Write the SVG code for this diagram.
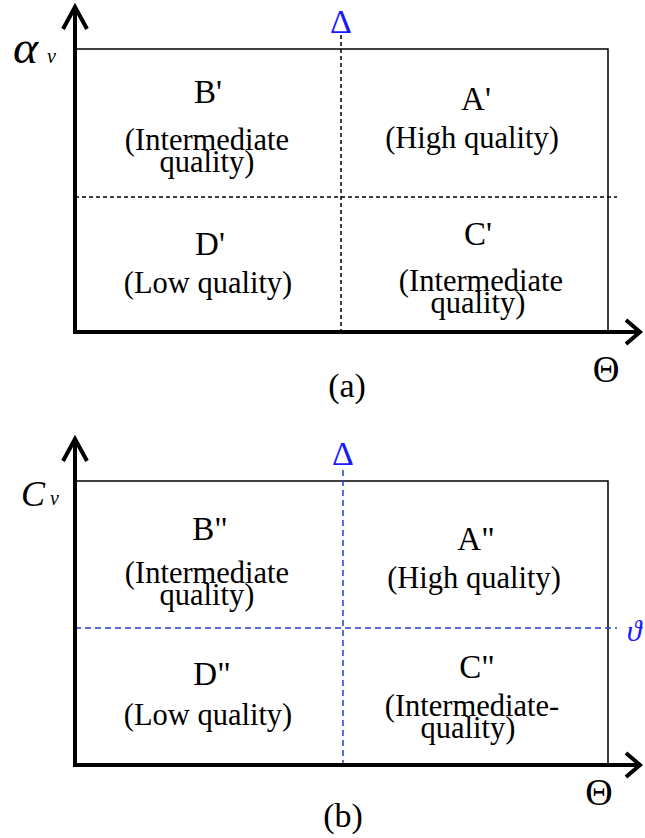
<svg xmlns="http://www.w3.org/2000/svg" width="645" height="838" viewBox="0 0 645 838" font-family="'Liberation Serif', 'Times New Roman', serif">
<style>
text{font-family:'Liberation Serif','Times New Roman',serif;fill:#000}
.t{text-anchor:middle}
.s{text-anchor:start;font-style:italic}
.lab{font-size:33px}
.sub{font-size:30.5px}
.ax{stroke:#000;stroke-width:4;fill:none;stroke-linecap:butt}
.box{stroke:#000;stroke-width:1.5;fill:none}
.dk{stroke:#000;stroke-width:1.5;stroke-dasharray:4 3;fill:none}
.db{stroke:#1f3fc8;stroke-width:1.5;stroke-dasharray:6 4;fill:none}
.blue{fill:#1a1aff}
</style>
<rect width="645" height="838" fill="#fff"/>
<g id="connectors">
  <rect class="box" x="75" y="49" width="533" height="283"/>
  <line class="dk" x1="341" y1="35" x2="341" y2="332"/>
  <line class="dk" x1="75" y1="197" x2="617" y2="197"/>
  <path class="ax" d="M75 334 V7 M63 29 L75 7 L87 29"/>
  <path class="ax" d="M73 332 H640 M626 320 L640 332 L626 344"/>
  <rect class="box" x="75" y="481" width="533" height="284"/>
  <line class="db" x1="343" y1="470" x2="343" y2="765"/>
  <line class="db" x1="75" y1="628" x2="617" y2="628"/>
  <path class="ax" d="M75 767 V439 M63 461 L75 439 L87 461"/>
  <path class="ax" d="M73 765 H640 M626 753 L640 765 L626 777"/>
</g>
<g id="axis-labels-a">
  <text class="s" x="13" y="63" font-size="46" textLength="25" lengthAdjust="spacingAndGlyphs">α</text>
  <text class="s" x="47" y="63" font-size="20">v</text>
  <text class="t blue" x="341" y="33" font-size="34">Δ</text>
  <text class="t" x="606" y="382" font-size="37">Θ</text>
  <text class="t" x="347" y="397" font-size="34">(a)</text>
</g>
<g id="Bp"><text class="t lab" x="208" y="103">B'</text><text class="t sub" x="207" y="150">(Intermediate</text><text class="t sub" x="207" y="172">quality)</text></g>
<g id="Ap"><text class="t lab" x="476" y="110">A'</text><text class="t sub" x="472" y="148">(High quality)</text></g>
<g id="Dp"><text class="t lab" x="210" y="255">D'</text><text class="t sub" x="208" y="293">(Low quality)</text></g>
<g id="Cp"><text class="t lab" x="478" y="245">C'</text><text class="t sub" x="481" y="291">(Intermediate</text><text class="t sub" x="478" y="313">quality)</text></g>
<g id="axis-labels-b">
  <text class="s" x="21" y="506" font-size="36">C</text>
  <text class="s" x="50" y="505" font-size="20">v</text>
  <text class="t blue" x="343" y="465" font-size="34">Δ</text>
  <text class="t blue" x="634" y="641" font-size="30" font-style="italic">ϑ</text>
  <text class="t" x="599" y="805" font-size="38">Θ</text>
  <text class="t" x="343" y="827" font-size="34">(b)</text>
</g>
<g id="Bpp"><text class="t lab" x="210" y="540">B"</text><text class="t sub" x="207" y="583">(Intermediate</text><text class="t sub" x="207" y="605">quality)</text></g>
<g id="App"><text class="t lab" x="476" y="550">A"</text><text class="t sub" x="474" y="588">(High quality)</text></g>
<g id="Dpp"><text class="t lab" x="212" y="685">D"</text><text class="t sub" x="208" y="725">(Low quality)</text></g>
<g id="Cpp"><text class="t lab" x="477" y="678">C"</text><text class="t sub" x="472" y="716">(Intermediate-</text><text class="t sub" x="468" y="738">quality)</text></g>
</svg>
